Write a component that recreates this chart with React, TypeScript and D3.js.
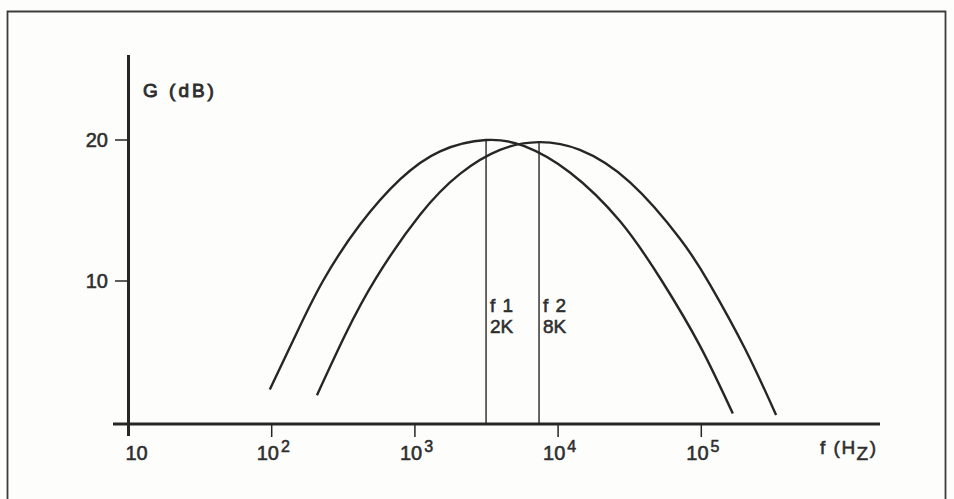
import React from "react";
import * as d3 from "d3";

// Gain responses of the two filters: frequency (Hz) and gain (dB)
const curve1Freq = [97, 146, 228, 414, 787, 1500, 3140, 5870, 12100, 27000, 53100, 97900, 166000];
const curve1Gain = [2.3, 6.1, 10, 14, 17.2, 19.2, 20, 19.55, 17.7, 14.25, 10, 5.4, 0.6];

const curve2Freq = [207, 325, 535, 1086, 2065, 3930, 7360, 14200, 31800, 71000, 115000, 202000, 333000];
const curve2Gain = [1.9, 6.15, 10.2, 14.7, 17.6, 19.3, 19.85, 19.3, 17.0, 13.0, 9.75, 5.2, 0.5];

// Centre-frequency markers
const markerNames = ["f 1", "f 2"];
const markerTexts = ["2K", "8K"];
const markerFreqs = [3140, 7360];
const markerGains = [20, 19.85];

// Axis ticks
const xTickExponents = [1, 2, 3, 4, 5];
const yTicks = [10, 20];

const W = 954;
const H = 499;
const INK = "#262626";
const TEXT = "#2e2e2e";
const FONT = "'Liberation Sans', Arial, Helvetica, sans-serif";

// slightly heavier lettering, like a printed stencil face
const textStyle = { stroke: TEXT, strokeWidth: 0.55, paintOrder: "stroke" as const };

export default function App() {
  const x = d3.scaleLog().domain([10, 1e5]).range([128.5, 701.3]);
  const y = d3.scaleLinear().domain([0, 20]).range([422, 140]);

  const line = d3
    .line<[number, number]>()
    .x((d) => x(d[0]))
    .y((d) => y(d[1]))
    .curve(d3.curveNatural);

  const c1 = curve1Freq.map((f, i) => [f, curve1Gain[i]] as [number, number]);
  const c2 = curve2Freq.map((f, i) => [f, curve2Gain[i]] as [number, number]);

  const axisY = y(0) + 2;
  const axisX = x(10);

  return (
    <svg
      width={W}
      height={H}
      viewBox={`0 0 ${W} ${H}`}
      style={{ position: "absolute", left: 0, top: 0, display: "block" }}
    >
      <rect x={0} y={0} width={W} height={H} fill="#fdfdfb" />
      {/* frame */}
      <path
        d={`M7.5,${H + 5} V11.5 H945.5 V${H + 5}`}
        fill="none"
        stroke="#3c3c3c"
        strokeWidth={1.8}
      />

      {/* axes */}
      <line x1={axisX} x2={axisX} y1={55} y2={436} stroke={INK} strokeWidth={3} />
      <line x1={113} x2={880} y1={axisY} y2={axisY} stroke={INK} strokeWidth={3} />

      {/* y ticks */}
      {yTicks.map((t) => (
        <g key={t}>
          <line x1={115} x2={axisX} y1={y(t)} y2={y(t)} stroke={INK} strokeWidth={1.5} />
          <text
            x={108}
            y={y(t) + 7}
            textAnchor="end"
            fontFamily={FONT}
            fontSize={20}
            fill={TEXT}
            style={textStyle}
          >
            {t}
          </text>
        </g>
      ))}
      <text
        x={143}
        y={97}
        fontFamily={FONT}
        fontSize={19}
        fill={TEXT}
        letterSpacing={3}
        style={{ ...textStyle, strokeWidth: 0.9 }}
      >
        G (dB)
      </text>

      {/* x ticks */}
      {xTickExponents.map((e) => {
        const px = x(Math.pow(10, e));
        if (e === 1) {
          return (
            <text key={e} x={px - 3} y={460} fontFamily={FONT} fontSize={20} fill={TEXT} style={textStyle}>
              10
            </text>
          );
        }
        return (
          <g key={e}>
            <line x1={px} x2={px} y1={axisY} y2={437} stroke={INK} strokeWidth={1.5} />
            <text x={px - 15} y={460} fontFamily={FONT} fontSize={20} fill={TEXT} style={textStyle}>
              10
              <tspan fontSize={16} dy={-8} dx={2}>
                {e}
              </tspan>
            </text>
          </g>
        );
      })}
      <text
        x={820}
        y={454}
        fontFamily={FONT}
        fontSize={19}
        fill={TEXT}
        letterSpacing={1.5}
        style={textStyle}
      >
        f (H
        <tspan dy={6}>Z</tspan>
        <tspan dy={-6}>)</tspan>
      </text>

      {/* markers */}
      {markerFreqs.map((f, i) => {
        const px = x(f);
        return (
          <g key={i}>
            <line x1={px} x2={px} y1={y(markerGains[i])} y2={axisY} stroke={INK} strokeWidth={1.4} />
            <text
              x={px + 4}
              y={312}
              fontFamily={FONT}
              fontSize={19}
              fill={TEXT}
              letterSpacing={1}
              style={textStyle}
            >
              {markerNames[i]}
            </text>
            <text x={px + 4} y={333} fontFamily={FONT} fontSize={19} fill={TEXT} style={textStyle}>
              {markerTexts[i]}
            </text>
          </g>
        );
      })}

      {/* response curves */}
      <path d={line(c1) ?? ""} fill="none" stroke={INK} strokeWidth={2.4} />
      <path d={line(c2) ?? ""} fill="none" stroke={INK} strokeWidth={2.4} />
    </svg>
  );
}
